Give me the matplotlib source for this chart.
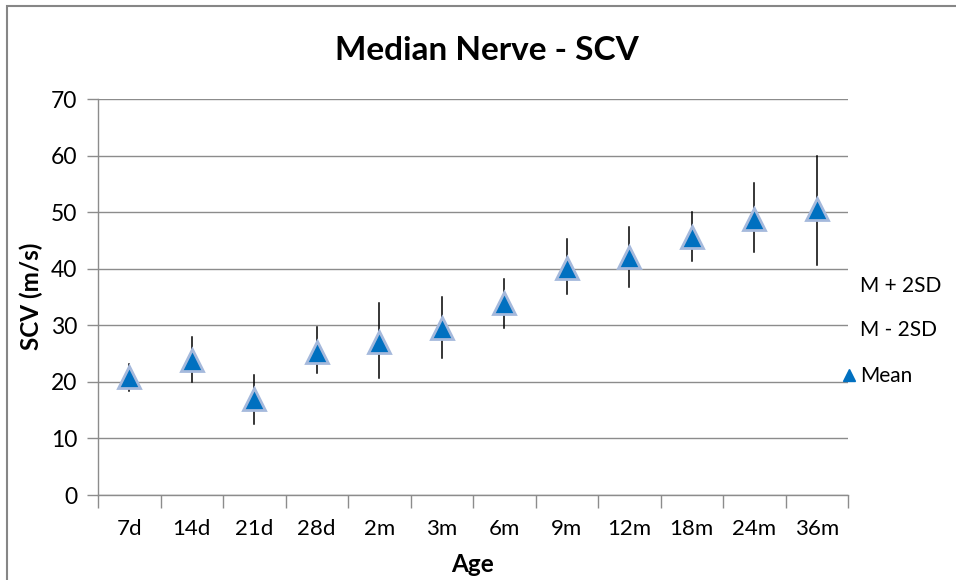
import matplotlib
matplotlib.use("Agg")
import matplotlib.pyplot as plt
from matplotlib.patches import Rectangle
from matplotlib.lines import Line2D

categories = ["7d", "14d", "21d", "28d", "2m", "3m", "6m", "9m", "12m", "18m", "24m", "36m"]
mean = [20.8, 23.9, 16.9, 25.3, 27.1, 29.5, 33.9, 40.2, 42.0, 45.6, 48.7, 50.5]
upper = [23.1, 27.9, 21.3, 29.7, 34.0, 35.0, 38.1, 45.3, 47.4, 50.0, 55.1, 60.0]
lower = [18.4, 19.9, 12.5, 21.6, 20.7, 24.2, 29.6, 35.5, 36.8, 41.3, 42.9, 40.6]

plt.rcParams['font.family'] = ['Lato', 'DejaVu Sans']

W, H = 956, 580
fig = plt.figure(figsize=(W / 100, H / 100), dpi=100)
ax = fig.add_axes([98 / W, 1 - 495 / H, 750 / W, 396 / H])

# chart border
fig.patches.append(Rectangle((7 / W, -0.1), 1.1, 1 - 6 / H + 0.1, transform=fig.transFigure,
                             fill=False, edgecolor="#868686", linewidth=1.5))

x = list(range(len(categories)))
for xi, lo, hi in zip(x, lower, upper):
    ax.plot([xi, xi], [lo, hi], color="black", linewidth=1.1, zorder=2)
ax.plot(x, mean, linestyle="none", marker="^", markersize=16.5, markerfacecolor="#0070C0",
        markeredgecolor="#a5b9dc", markeredgewidth=2, zorder=3)

ax.set_xlim(-0.5, len(categories) - 0.5)
ax.set_ylim(0, 70)
ax.set_yticks(range(0, 71, 10))
ax.yaxis.grid(True, color="#8c8c8c", linewidth=1)
ax.set_axisbelow(True)
ax.set_xticks(x)
ax.set_xticklabels(categories, fontsize=16)
ax.set_xticks([i - 0.5 for i in range(len(categories) + 1)], minor=True)
ax.tick_params(axis="x", which="major", length=0, pad=17)
ax.tick_params(axis="x", which="minor", length=9, color="#8c8c8c", width=1)
ax.tick_params(axis="y", length=8, color="#8c8c8c", width=1, labelsize=16.5, pad=7)
for s in ["top", "right"]:
    ax.spines[s].set_visible(False)
for s in ["left", "bottom"]:
    ax.spines[s].set_color("#8c8c8c")
    ax.spines[s].set_linewidth(1)

fig.text(487 / W, 1 - 51 / H, "Median Nerve - SCV", ha="center", va="center",
         fontsize=24, fontweight="bold")
fig.text(31 / W, 1 - 296 / H, "SCV (m/s)", ha="center", va="center", rotation=90,
         fontsize=17.5, fontweight="bold")
fig.text(473 / W, 1 - 565 / H, "Age", ha="center", va="center", fontsize=17.5,
         fontweight="bold")

# legend
fig.text(860 / W, 1 - 286 / H, "M + 2SD", ha="left", va="center", fontsize=15)
fig.text(860 / W, 1 - 330 / H, "M - 2SD", ha="left", va="center", fontsize=15)
fig.text(860 / W, 1 - 376 / H, "Mean", ha="left", va="center", fontsize=15)
fig.lines.append(Line2D([849 / W], [1 - 375 / H], transform=fig.transFigure, marker="^",
                        markersize=9, markerfacecolor="#0070C0", markeredgecolor="#0070C0",
                        linestyle="none"))

fig.savefig("out.png", dpi=100)
